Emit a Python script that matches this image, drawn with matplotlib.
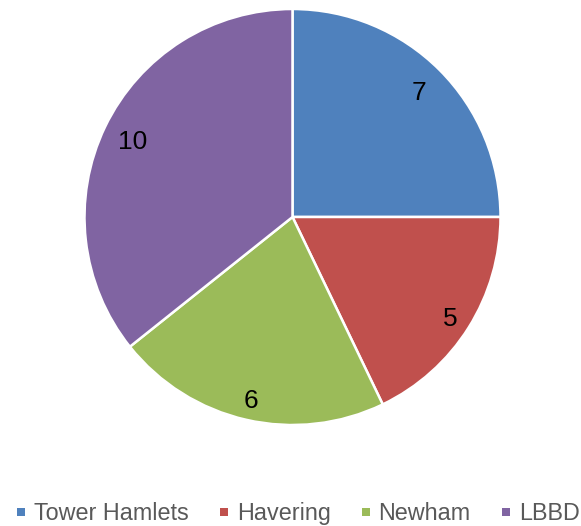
import numpy as np
import matplotlib
matplotlib.use("Agg")
import matplotlib.pyplot as plt
from matplotlib.patches import Rectangle
from matplotlib.transforms import ScaledTranslation

plt.rcParams['font.family'] = ['Liberation Sans', 'DejaVu Sans']

categories = ["Tower Hamlets", "Havering", "Newham", "LBBD"]
values = [7, 5, 6, 10]
colors = ["#4F81BD", "#C0504D", "#9BBB59", "#8064A2"]

W, H = 581, 526
fig = plt.figure(figsize=(W / 100, H / 100), dpi=100)
cx, cy, r = 292.5, 217, 208
ax = fig.add_axes([(cx - r) / W, (H - cy - r) / H, 2 * r / W, 2 * r / H])
total = sum(values)
wedges, texts, autotexts = ax.pie(
    values, colors=colors, startangle=90, counterclock=False,
    radius=1, autopct=lambda p: f"{round(p * total / 100):d}",
    pctdistance=0.87,
    wedgeprops=dict(edgecolor="white", linewidth=1.8),
    textprops=dict(fontsize=19, color="black"))
# Excel-like best-fit label distances
label_dist = [0.862, 0.895, 0.895, 0.854]
shift = ScaledTranslation(0, -2.5 / 100, fig.dpi_scale_trans)
for w, t, d in zip(wedges, autotexts, label_dist):
    ang = np.deg2rad((w.theta1 + w.theta2) / 2)
    t.set_position((d * np.cos(ang), d * np.sin(ang)))
    t.set_va('center')
    t.set_transform(ax.transData + shift)
ax.set_xlim(-1.0, 1.0)
ax.set_ylim(-1.0, 1.0)
ax.set_aspect('auto')
ax.axis('off')

# Legend drawn in pixel layout (Excel-style: small squares, grey text)
renderer = fig.canvas.get_renderer()
msize = 8          # marker square side, px
x_marker = 21      # first marker centre, px
marker_to_text = 13
text_to_marker = 35
y_marker = 512
y_base = 520
for cat, col in zip(categories, colors):
    fig.patches.append(Rectangle(((x_marker - msize / 2) / W, 1 - (y_marker + msize / 2) / H),
                                 msize / W, msize / H, transform=fig.transFigure,
                                 facecolor=col, edgecolor='none'))
    t = fig.text((x_marker + marker_to_text) / W, 1 - y_base / H, cat,
                 fontsize=16.8, color="#595959", ha='left', va='baseline')
    bb = t.get_window_extent(renderer)
    x_marker = bb.x1 + text_to_marker

fig.savefig("out.png", dpi=100)
